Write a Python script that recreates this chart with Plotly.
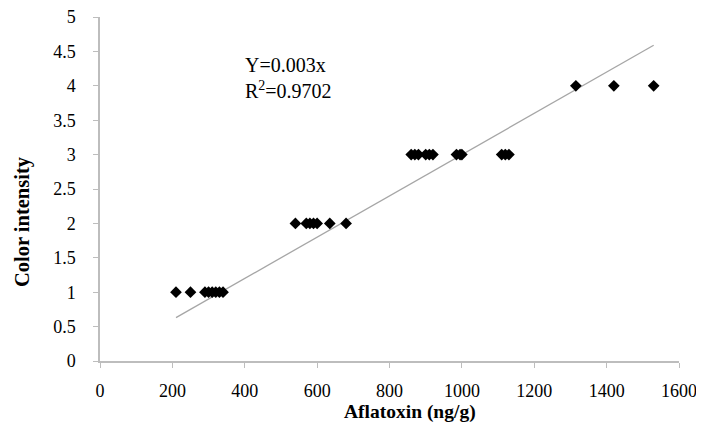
import plotly.graph_objects as go

# Data
aflatoxin = [210, 250, 290, 300, 310, 320, 330, 340,
             540, 570, 580, 590, 600, 635, 680,
             860, 870, 880, 900, 910, 920, 985, 995, 1000, 1110, 1120, 1130,
             1315, 1420, 1530]
intensity = [1, 1, 1, 1, 1, 1, 1, 1,
             2, 2, 2, 2, 2, 2, 2,
             3, 3, 3, 3, 3, 3, 3, 3, 3, 3, 3, 3,
             4, 4, 4]
slope = 0.003
equation_text = "Y=0.003x<br>R<sup>2</sup>=0.9702"
x_ticks = [0, 200, 400, 600, 800, 1000, 1200, 1400, 1600]
y_ticks = [0, 0.5, 1, 1.5, 2, 2.5, 3, 3.5, 4, 4.5, 5]

trend_x = [min(aflatoxin), max(aflatoxin)]
trend_y = [slope * v for v in trend_x]

FONT = "Liberation Serif"
AXIS_GRAY = "#BDBDBD"

fig = go.Figure()
fig.add_trace(go.Scatter(x=trend_x, y=trend_y, mode="lines",
                         line=dict(color="#A6A6A6", width=1.3),
                         showlegend=False, hoverinfo="skip"))
fig.add_trace(go.Scatter(x=aflatoxin, y=intensity, mode="markers",
                         marker=dict(symbol="diamond", size=9, color="black"),
                         showlegend=False))

# page has an 8px body margin, so the figure is sized to fit the remaining window
fig.update_layout(
    width=696, height=418,
    margin=dict(l=92, r=25, t=9, b=65, autoexpand=False),
    paper_bgcolor="white", plot_bgcolor="white",
    font=dict(family=FONT, size=18, color="black"),
    xaxis=dict(range=[0, 1600], tickvals=x_ticks, ticktext=[str(v) for v in x_ticks],
               showgrid=False, zeroline=False, showline=True, linecolor=AXIS_GRAY,
               linewidth=1.5, ticks="outside", ticklen=5, tickcolor=AXIS_GRAY,
               ticklabelstandoff=8, ticklabeloverflow="allow", automargin=False),
    yaxis=dict(range=[0, 5], tickvals=y_ticks, ticktext=[f"{v:g}" for v in y_ticks],
               showgrid=False, zeroline=False, showline=True, linecolor=AXIS_GRAY,
               linewidth=1.5, ticks="outside", ticklen=5, tickcolor=AXIS_GRAY,
               ticklabelstandoff=14, ticklabeloverflow="allow", automargin=False),
    annotations=[
        dict(text=equation_text, x=395, y=4.11, xref="x", yref="y",
             xanchor="left", yanchor="middle", align="left", showarrow=False,
             font=dict(family=FONT, size=20, color="black")),
        dict(text="<b>Aflatoxin (ng/g)</b>", x=0.535, y=0, xref="paper", yref="paper",
             yshift=-51, xanchor="center", yanchor="middle", showarrow=False,
             font=dict(family=FONT, size=19.5, color="black")),
        dict(text="<b>Color intensity</b>", x=0, y=0.404, xref="paper", yref="paper",
             xshift=-78, xanchor="center", yanchor="middle", textangle=-90,
             showarrow=False, font=dict(family=FONT, size=20.5, color="black")),
    ],
)

fig.write_html("out.html")
